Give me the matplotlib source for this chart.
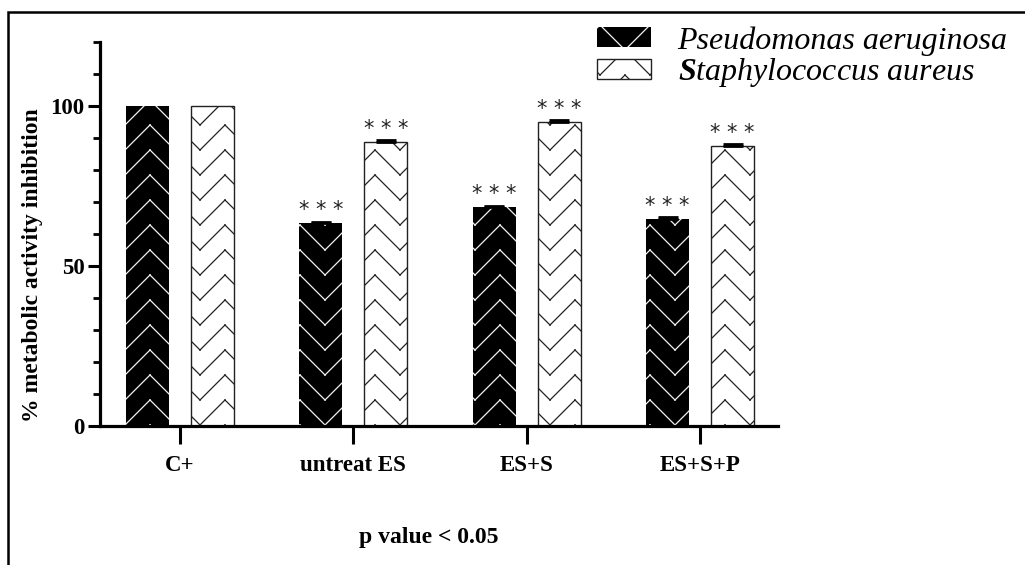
import warnings
warnings.filterwarnings('ignore')
import numpy as np
import matplotlib
matplotlib.use('Agg')
import matplotlib.pyplot as plt
from matplotlib import hatch as mhatch
from matplotlib.path import Path
from matplotlib.patches import Rectangle
from matplotlib.ticker import FixedLocator

# ---------------- data ----------------
categories = ['C+', 'untreat ES', 'ES+S', 'ES+S+P']
pseudomonas = [100.0, 63.3, 68.4, 64.6]
staphylococcus = [100.0, 88.8, 95.1, 87.6]
pseudomonas_err = [0.0, 0.6, 0.5, 0.6]
staphylococcus_err = [0.0, 0.5, 0.5, 0.5]
pseudomonas_sig = ['', '* * *', '* * *', '* * *']
staphylococcus_sig = ['', '* * *', '* * *', '* * *']
series_labels = ['Pseudomonas aeruginosa', r'$\mathbf{S}$taphylococcus aureus']
y_major = [0, 50, 100]
y_minor = [10, 20, 30, 40, 60, 70, 80, 90, 110, 120]
footnote = 'p value < 0.05'


# ---------------- chevron hatch (line segments only) ----------------
class ChevronHatch(mhatch.HatchPatternBase):
    NX, NY = 2, 4

    def __init__(self, hatch, density):
        self.down = hatch.count('v') > 0
        self.up = hatch.count('^') > 0
        self.rows = list(range(0, self.NY + 2))
        self.cols = list(range(-1, self.NX + 1))
        n = len(self.rows) * len(self.cols) * 4
        self.num_vertices = n if (self.down or self.up) else 0

    def set_vertices_and_codes(self, vertices, codes):
        w = 1.0 / self.NX
        d = 1.0 / self.NY
        k = 0
        for j in self.rows:
            y0 = j * d
            for i in self.cols:
                x0 = i * w
                if self.down:
                    a, b, c = (x0, y0), (x0 + w / 2, y0 - d), (x0 + w, y0)
                else:
                    a, b, c = (x0, y0 - d), (x0 + w / 2, y0), (x0 + w, y0 - d)
                vertices[k:k + 4] = [a, b, b, c]
                codes[k] = Path.MOVETO
                codes[k + 1] = Path.LINETO
                codes[k + 2] = Path.MOVETO
                codes[k + 3] = Path.LINETO
                k += 4


mhatch._hatch_types.append(ChevronHatch)

plt.rcParams['hatch.linewidth'] = 0.9
plt.rcParams['mathtext.fontset'] = 'custom'
plt.rcParams['mathtext.bf'] = 'Liberation Serif:italic:bold'
plt.rcParams['mathtext.it'] = 'Liberation Serif:italic'
plt.rcParams['mathtext.rm'] = 'Liberation Serif'

# ---------------- figure ----------------
fig = plt.figure(figsize=(10.25, 5.65), dpi=100)
ax = fig.add_axes([100 / 1025, 1 - 426 / 565, 678 / 1025, 384 / 565])

x = np.arange(len(categories))
width = 0.248
offset = 0.1875

b1 = ax.bar(x - offset, pseudomonas, width, color='black', edgecolor='#f2f2f2',
            linewidth=0, hatch='v', zorder=1)
b2 = ax.bar(x + offset, staphylococcus, width, color='white', edgecolor='#222222',
            linewidth=1.0, hatch='^', zorder=1)

for xs, vals, errs, sigs in [(x - offset, pseudomonas, pseudomonas_err, pseudomonas_sig),
                             (x + offset, staphylococcus, staphylococcus_err, staphylococcus_sig)]:
    for xi, v, e, s in zip(xs, vals, errs, sigs):
        if e > 0:
            ax.errorbar(xi, v, yerr=[[0], [e]], fmt='none', ecolor='black',
                        elinewidth=2, capsize=7.5, capthick=2, zorder=3)
        if s:
            ax.annotate(s, xy=(xi, v + e), xytext=(0, 1), textcoords='offset points',
                        ha='center', va='bottom', fontsize=15, family='DejaVu Sans',
                        color='#222222')

ax.set_xlim(-0.4616, 3.45)
ax.set_ylim(0, 120)
for side in ['top', 'right']:
    ax.spines[side].set_visible(False)
for side in ['left', 'bottom']:
    ax.spines[side].set_linewidth(2.3)

ax.set_yticks(y_major)
ax.yaxis.set_minor_locator(FixedLocator(y_minor))
ax.set_xticks(x)
ax.set_xticklabels(categories)
ax.tick_params(axis='y', which='major', length=9, width=2.2, pad=2)
ax.tick_params(axis='y', which='minor', length=5, width=2.0)
ax.tick_params(axis='x', which='major', length=13, width=2.2, pad=8)
for lbl in ax.get_xticklabels() + ax.get_yticklabels():
    lbl.set_fontfamily('Liberation Serif')
    lbl.set_fontweight('bold')
    lbl.set_fontsize(16.5)

ax.set_ylabel('% metabolic activity inhibition', fontfamily='Liberation Serif',
              fontweight='bold', fontsize=17)
ax.yaxis.set_label_coords(-0.084, 0.42)

fig.legend([b1, b2], series_labels, loc='upper left',
           bbox_to_anchor=(597 / 1025, 1 - 26 / 565), frameon=False,
           prop=dict(family='Liberation Serif', style='italic', size=23),
           handlelength=1.69, handleheight=0.56, handletextpad=0.83,
           labelspacing=0.02, borderpad=0, borderaxespad=0)

fig.text(429 / 1025, 1 - 537 / 565, footnote, ha='center', va='center',
         fontsize=17, fontweight='bold', fontfamily='Liberation Serif')

fig.add_artist(Rectangle((8 / 1025, -0.1), 1.2, 1.1 - 12 / 565,
                         transform=fig.transFigure, fill=False,
                         edgecolor='black', linewidth=1.8, clip_on=False))

fig.savefig('out.png', dpi=100)
